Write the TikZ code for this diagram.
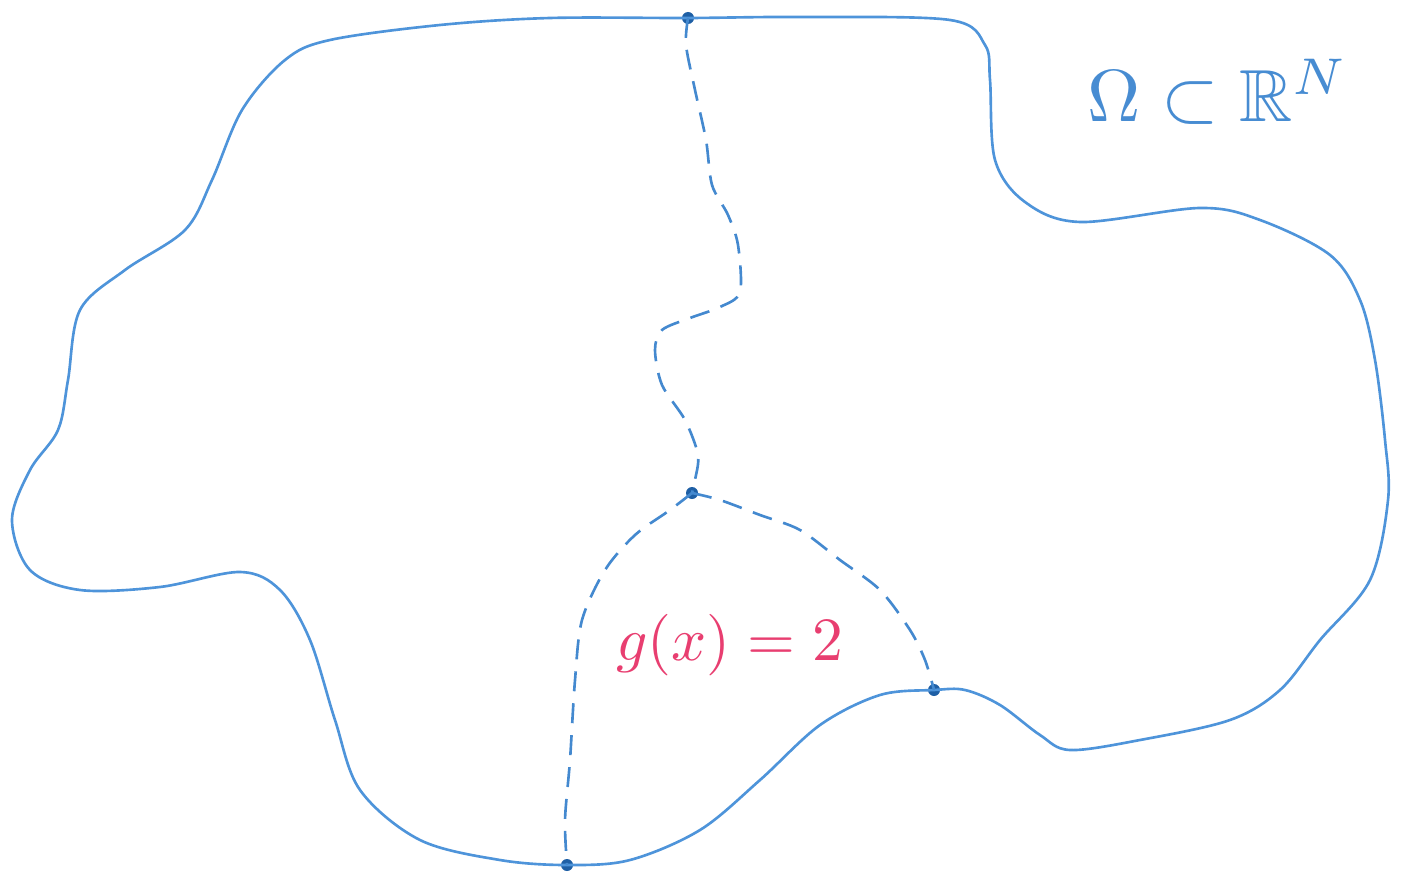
\documentclass[tikz,border=0pt]{standalone}
\usepackage{amsmath}
\usepackage{amssymb}
\usetikzlibrary{arrows.meta}

\definecolor{lineblue}{RGB}{78,148,218}
\definecolor{dotblue}{RGB}{30,95,165}
\definecolor{labelpink}{RGB}{232,62,112}

\begin{document}
\begin{tikzpicture}[>=Stealth, scale=1.0,
    boundary/.style={lineblue, line width=0.75pt, line join=round},
    cut/.style={lineblue!80!dotblue, line width=0.75pt, dash pattern=on 0.2cm off 0.12cm},
    endpt/.style={circle, fill=dotblue, inner sep=0pt, minimum size=0.12cm}]

  % picture frame
  \useasboundingbox (0,0) rectangle (14.01,8.77);

  % marked points on the boundary and the junction
  \node[endpt] (ptop) at (6.88,8.59) {};
  \node[endpt] (pjun) at (6.92,3.84) {};
  \node[endpt] (pright) at (9.34,1.87) {};
  \node[endpt] (pbot) at (5.67,0.12) {};

  % boundary of the domain
  \draw[boundary] plot[smooth cycle, tension=0.55] coordinates {
    (ptop.center) (8.00,8.60) (9.50,8.57) (9.85,8.32) (9.90,7.97) (9.95,7.17)
    (10.25,6.75) (10.80,6.55) (12.00,6.69) (12.60,6.57) (13.30,6.22) (13.60,5.77)
    (13.75,5.17) (13.85,4.37) (13.88,3.77) (13.70,2.97) (13.20,2.37) (12.80,1.87)
    (12.30,1.57) (11.40,1.37) (10.70,1.27) (10.40,1.42) (10.00,1.72) (9.65,1.87)
    (pright.center) (8.80,1.82) (8.20,1.52) (7.60,0.97) (7.00,0.47) (6.30,0.17)
    (pbot.center) (5.00,0.17) (4.20,0.37) (3.60,0.87) (3.35,1.57) (3.10,2.37)
    (2.80,2.87) (2.40,3.05) (1.60,2.90) (0.80,2.87) (0.30,3.07) (0.12,3.57)
    (0.30,4.07) (0.58,4.47) (0.68,4.97) (0.80,5.67) (1.25,6.07) (1.85,6.47)
    (2.12,6.97) (2.42,7.67) (2.85,8.17) (3.30,8.37) (4.40,8.52) (5.50,8.59)};

  % dashed cut from the top down to the junction
  \draw[cut] plot[smooth, tension=0.5] coordinates {
    (ptop.center) (6.86,8.32) (6.95,7.87) (7.06,7.37) (7.12,6.92) (7.28,6.62)
    (7.38,6.32) (7.40,5.85) (7.20,5.70) (6.90,5.59) (6.62,5.47) (6.55,5.27)
    (6.62,4.92) (6.85,4.57) (6.98,4.22) (6.95,3.97) (pjun.center)};

  % the two branches from the junction
  \draw[cut] plot[smooth, tension=0.5] coordinates {
    (pjun.center) (6.70,3.67) (6.35,3.42) (6.05,3.07) (5.82,2.57) (5.75,1.97)
    (5.70,1.17) (5.65,0.57) (pbot.center)};
  \draw[cut] plot[smooth, tension=0.5] coordinates {
    (pjun.center) (7.20,3.77) (7.60,3.62) (8.00,3.47) (8.40,3.17) (8.80,2.87)
    (9.10,2.47) (9.25,2.17) (pright.center)};

  % labels
  \node[lineblue!85!dotblue, scale=2.1] (domain) at (12.18,7.85) {$\Omega\subset\mathbb{R}^N$};
  \node[labelpink, scale=1.75] (gval) at (7.30,2.32) {$g(x)=2$};

\end{tikzpicture}
\end{document}
